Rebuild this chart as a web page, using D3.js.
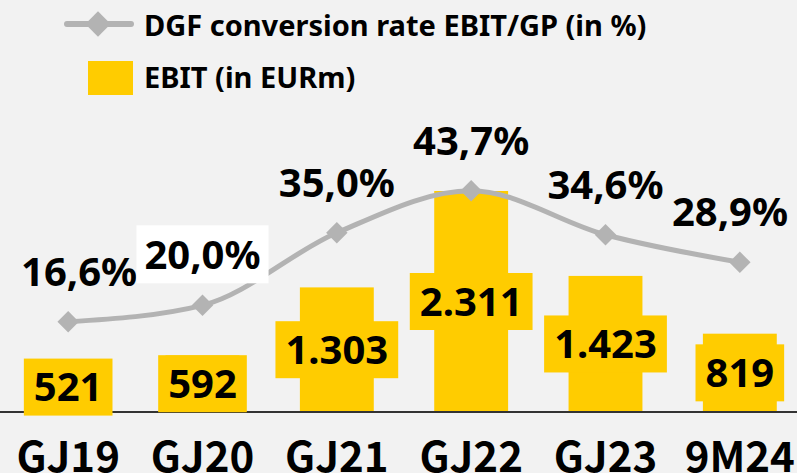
<!DOCTYPE html>
<html>
<head>
<meta charset="utf-8">
<script src="https://cdn.jsdelivr.net/npm/d3@7"></script>
<style>
  body { margin: 0; background: #f2f2f2; }
  svg { display: block; font-family: "Noto Sans", sans-serif; font-weight: bold; }
  .cat { font-family: "Noto Sans CJK SC", "Noto Sans", sans-serif; }
</style>
</head>
<body>
<div id="chart"></div>
<script>
var categories = ["GJ19", "GJ20", "GJ21", "GJ22", "GJ23", "9M24"];
var ebit = [521, 592, 1303, 2311, 1423, 819];
var ebitLabels = ["521", "592", "1.303", "2.311", "1.423", "819"];
var rate = [16.6, 20.0, 35.0, 43.7, 34.6, 28.9];
var rateLabels = ["16,6%", "20,0%", "35,0%", "43,7%", "34,6%", "28,9%"];

var width = 797, height = 473;
var yellow = "#ffcc00", grey = "#b3b3b3";

var svg = d3.select("#chart")
    .append("svg")
    .attr("width", width)
    .attr("height", height);

svg.append("rect").attr("width", width).attr("height", height).attr("fill", "#f2f2f2");

var x = d3.scaleBand()
    .domain(categories)
    .range([1, 807])
    .paddingInner(0.45)
    .paddingOuter(0.225);

// bars: 0 at the baseline
var y = d3.scaleLinear().domain([0, 2311]).range([412, 191]);
// conversion rate on its own axis
var y2 = d3.scaleLinear().domain([0, 50]).range([402, 160.3]);

var data = categories.map(function(c, i) {
    return {cat: c, ebit: ebit[i], ebitLabel: ebitLabels[i], rate: rate[i], rateLabel: rateLabels[i]};
});

// bars
svg.append("g").selectAll("rect")
    .data(data)
    .enter().append("rect")
    .attr("x", function(d) { return x(d.cat); })
    .attr("y", function(d) { return y(d.ebit); })
    .attr("width", x.bandwidth())
    .attr("height", function(d) { return y(0) - y(d.ebit); })
    .attr("fill", yellow);

// baseline
svg.append("line")
    .attr("x1", 0).attr("x2", width)
    .attr("y1", y(0)).attr("y2", y(0))
    .attr("stroke", "#333").attr("stroke-width", 2);

// bar value labels with yellow box
var fs = 40;
var vl = svg.append("g").selectAll("g")
    .data(data)
    .enter().append("g")
    .attr("transform", function(d) {
        var cx = x(d.cat) + x.bandwidth() / 2;
        var cy = (y(d.ebit) + y(0)) / 2;
        return "translate(" + cx + "," + cy + ")";
    });
vl.append("rect").attr("fill", yellow);
vl.append("text")
    .attr("text-anchor", "middle")
    .attr("y", fs * 0.36)
    .attr("font-size", fs)
    .attr("fill", "#000")
    .text(function(d) { return d.ebitLabel; });
vl.each(function() {
    var g = d3.select(this);
    var w = g.select("text").node().getComputedTextLength();
    g.select("rect")
        .attr("x", -w / 2 - 10).attr("width", w + 20)
        .attr("y", -28.5).attr("height", 57);
});

// conversion line
var line = d3.line()
    .x(function(d) { return x(d.cat) + x.bandwidth() / 2; })
    .y(function(d) { return y2(d.rate); })
    .curve(d3.curveMonotoneX);

svg.append("path")
    .datum(data)
    .attr("d", line)
    .attr("fill", "none")
    .attr("stroke", grey)
    .attr("stroke-width", 5);

var diamond = d3.symbol().type(d3.symbolSquare).size(230);
svg.append("g").selectAll("path")
    .data(data)
    .enter().append("path")
    .attr("d", diamond)
    .attr("fill", grey)
    .attr("transform", function(d) {
        return "translate(" + (x(d.cat) + x.bandwidth() / 2) + "," + y2(d.rate) + ") rotate(45)";
    });

// rate labels
var rl = svg.append("g").selectAll("g")
    .data(data)
    .enter().append("g");
rl.append("rect").attr("fill", function(d) { return d.cat === "GJ20" ? "#fff" : "none"; });
rl.append("text")
    .attr("text-anchor", "middle")
    .attr("font-size", fs)
    .attr("fill", "#000")
    .text(function(d) { return d.rateLabel; });
rl.each(function(d) {
    var g = d3.select(this);
    var t = g.select("text");
    var w = t.node().getComputedTextLength();
    var cx = x(d.cat) + x.bandwidth() / 2;
    cx = Math.max(21 + w / 2, Math.min(788 - w / 2, cx));
    var by = y2(d.rate) - 36;
    t.attr("x", cx).attr("y", by);
    g.select("rect")
        .attr("x", cx - w / 2 - 8).attr("width", w + 16)
        .attr("y", by - 44).attr("height", 58);
});

// categories
svg.append("g").selectAll("text")
    .data(data)
    .enter().append("text")
    .attr("class", "cat")
    .attr("x", function(d) { return x(d.cat) + x.bandwidth() / 2; })
    .attr("y", 472)
    .attr("text-anchor", "middle")
    .attr("font-size", 42)
    .attr("fill", "#000")
    .text(function(d) { return d.cat; });

// legend
var leg = svg.append("g");
leg.append("line")
    .attr("x1", 67).attr("x2", 131).attr("y1", 24).attr("y2", 24)
    .attr("stroke", grey).attr("stroke-width", 6).attr("stroke-linecap", "round");
leg.append("path")
    .attr("d", d3.symbol().type(d3.symbolSquare).size(320))
    .attr("fill", grey)
    .attr("transform", "translate(98,24) rotate(45)");
leg.append("text")
    .attr("x", 144).attr("y", 36)
    .attr("font-size", 29)
    .text("DGF conversion rate EBIT/GP (in %)");
leg.append("rect")
    .attr("x", 88).attr("y", 61).attr("width", 45).attr("height", 34)
    .attr("fill", yellow);
leg.append("text")
    .attr("x", 144).attr("y", 88)
    .attr("font-size", 29)
    .text("EBIT (in EURm)");
</script>
</body>
</html>
